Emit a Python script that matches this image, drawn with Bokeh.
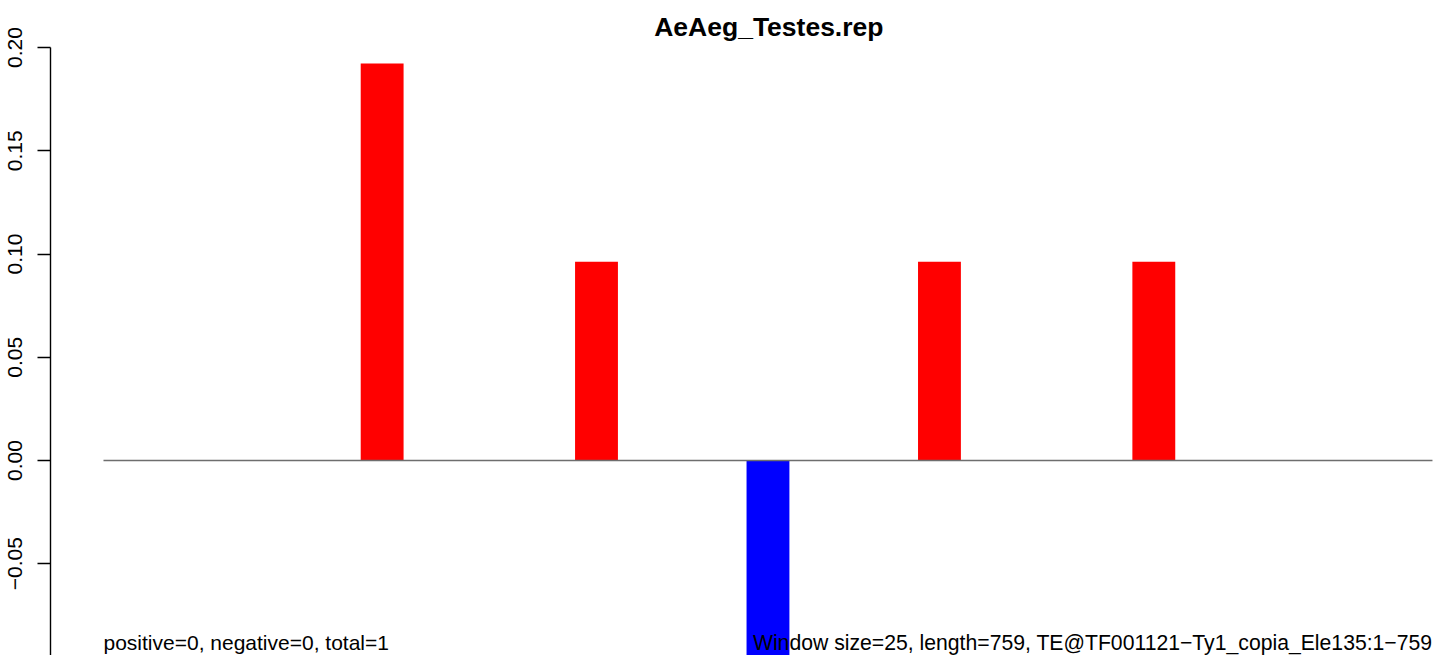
from bokeh.plotting import figure
from bokeh.models import Range1d, LinearAxis, FixedTicker, CustomJSTickFormatter, Label, ColumnDataSource
from bokeh.embed import file_html
from bokeh.resources import INLINE

# ---- data ----
title_text = "AeAeg_Testes.rep"
window_values = [0, 0, 0, 0, 0, 0, 0.1923, 0, 0, 0, 0, 0.0962, 0, 0, 0, -0.0962,
                 0, 0, 0, 0.0962, 0, 0, 0, 0, 0.0962, 0, 0, 0, 0, 0, 0]
y_ticks = [-0.10, -0.05, 0.00, 0.05, 0.10, 0.15, 0.20]
left_note = "positive=0, negative=0, total=1"
right_note = "Window size=25, length=759, TE@TF001121\u2212Ty1_copia_Ele135:1\u2212759"
pos_color = "#FF0000"
neg_color = "#0000FF"

n = len(window_values)
lefts = list(range(n))
rights = [i + 1 for i in range(n)]
colors = [pos_color if v > 0 else neg_color for v in window_values]
src = ColumnDataSource(dict(left=lefts, right=rights, top=[max(v, 0) for v in window_values],
                            bottom=[min(v, 0) for v in window_values], color=colors))
nz = [v != 0 for v in window_values]
src_nz = ColumnDataSource({k: [x for x, keep in zip(col, nz) if keep] for k, col in src.data.items()})

FONT = "Liberation Sans"

p = figure(width=1436, height=655, output_backend="svg", toolbar_location=None,
           x_range=Range1d(-1.236, 31.094), y_range=Range1d(-0.09443, 0.22276),
           x_axis_location=None, y_axis_location=None,
           min_border_left=50, min_border_right=0, min_border_top=0, min_border_bottom=0)
p.outline_line_color = None
p.xgrid.visible = False
p.ygrid.visible = False
p.background_fill_color = "white"
p.border_fill_color = "white"

ax = LinearAxis(ticker=FixedTicker(ticks=y_ticks),
                formatter=CustomJSTickFormatter(code="return tick.toFixed(2).replace('-', '\\u2212');"),
                bounds=(min(y_ticks), max(y_ticks)))
ax.major_label_orientation = "vertical"
ax.major_tick_out = 13
ax.major_tick_in = 0
ax.minor_tick_out = 0
ax.minor_tick_in = 0
ax.major_label_standoff = 15
ax.major_label_text_font = FONT
ax.major_label_text_font_size = "21px"
ax.major_label_text_color = "black"
ax.axis_line_color = "black"
ax.major_tick_line_color = "black"
ax.axis_line_width = 1.4
ax.major_tick_line_width = 1.4
p.add_layout(ax, "left")

p.quad(left="left", right="right", top="top", bottom="bottom", source=src_nz,
       fill_color="color", line_color=None)
p.line(x=[0, n], y=[0, 0], line_color="#6E6E6E", line_width=1.3)

p.add_layout(Label(x=n / 2 + 0.02, y=0.2097, text=title_text, text_align="center",
                   text_baseline="alphabetic", text_font=FONT, text_font_size="26.5px",
                   text_font_style="bold", text_color="black"))
p.add_layout(Label(x=0, y=-0.0881, text=left_note, text_align="left",
                   text_baseline="alphabetic", text_font=FONT, text_font_size="21px",
                   text_color="black"))
p.add_layout(Label(x=n, y=-0.0881, text=right_note, text_align="right",
                   text_baseline="alphabetic", text_font=FONT, text_font_size="21.2px",
                   text_color="black"))

open("out.html", "w").write(file_html(p, INLINE))
